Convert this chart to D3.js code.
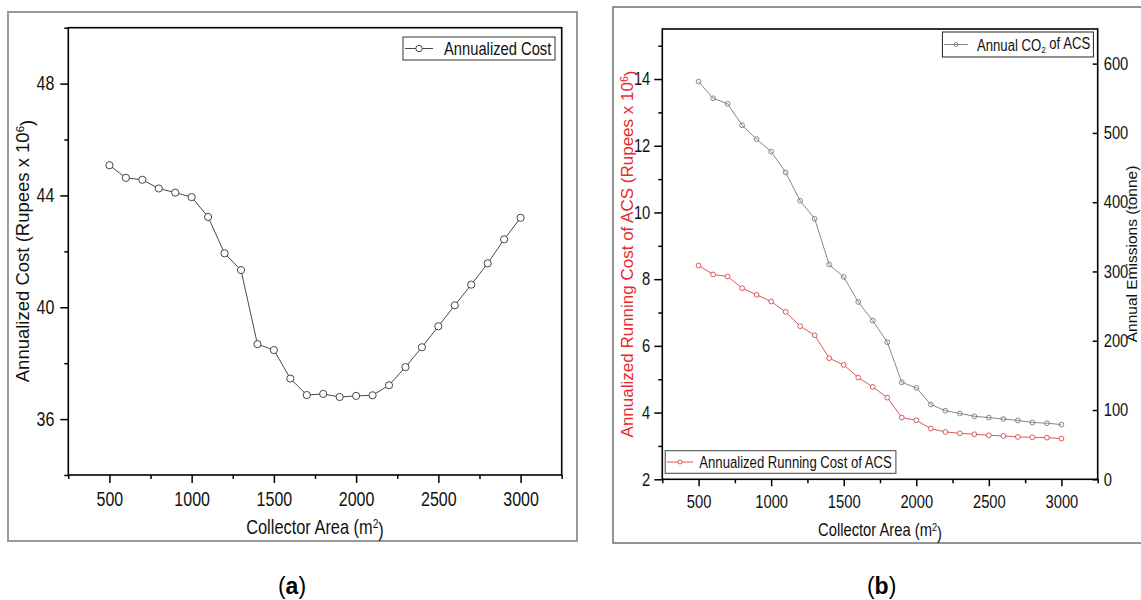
<!DOCTYPE html>
<html>
<head>
<meta charset="utf-8">
<script src="https://cdn.jsdelivr.net/npm/d3@7"></script>
<style>
  body { margin: 0; background: #fff; }
  svg { display: block; }
  text { font-family: "Liberation Sans", Arial, sans-serif; }
</style>
</head>
<body>
<svg id="chart" width="1141" height="600"></svg>
<script>
// collector area (m2), shared by every series
const collectorArea = [500, 600, 700, 800, 900, 1000, 1100, 1200, 1300, 1400, 1500, 1600, 1700,
    1800, 1900, 2000, 2100, 2200, 2300, 2400, 2500, 2600, 2700, 2800, 2900, 3000];

// (a) annualized cost, Rupees x 10^6
const annualizedCost = [45.08, 44.63, 44.56, 44.25, 44.10, 43.94, 43.23, 41.93, 41.33, 38.68, 38.47, 37.45, 36.86,
    36.90, 36.79, 36.83, 36.85, 37.21, 37.86, 38.57, 39.32, 40.07, 40.81, 41.57, 42.43, 43.20];

// (b) annualized running cost, Rupees x 10^6
const runningCost = [8.41, 8.14, 8.08, 7.73, 7.53, 7.33, 7.02, 6.59, 6.32, 5.63, 5.43, 5.05, 4.77,
    4.45, 3.85, 3.77, 3.52, 3.42, 3.38, 3.35, 3.32, 3.30, 3.27, 3.26, 3.25, 3.22];

// (b) annual CO2 emissions, tonne
const co2Emissions = [574, 550, 542, 511, 491, 473, 443, 402, 376, 310, 292, 256, 229,
    198, 140, 132, 108, 99, 95, 91, 89, 87, 85, 82, 81, 79];

const xTicks = [500, 1000, 1500, 2000, 2500, 3000];
const xMinor = [250, 750, 1250, 1750, 2250, 2750, 3250];
const yTicksA = [36, 40, 44, 48];
const yMinorA = [34, 38, 42, 46, 50];
const yTicksB = [2, 4, 6, 8, 10, 12, 14];
const yMinorB = [3, 5, 7, 9, 11, 13, 15];
const yTicksRight = [0, 100, 200, 300, 400, 500, 600];

const SQUEEZE = 0.82; // the source figure is horizontally compressed

const svg = d3.select('#chart');
svg.append('rect').attr('width', 1141).attr('height', 600).attr('fill', '#fff');

function squeeze (sel) {
    // squash horizontal text around its own anchor point
    sel.each(function () {
        const t = d3.select(this);
        const x = +t.attr('x') || 0;
        const y = +t.attr('y') || 0;
        t.attr('x', null).attr('y', null)
            .attr('transform', 'translate(' + x + ',' + y + ') scale(' + SQUEEZE + ',1)');
    });
}

function styleAxis (g, size) {
    g.select('.domain').remove();
    g.selectAll('line').attr('stroke', '#000').attr('stroke-width', 1.5);
    g.selectAll('text').attr('font-size', size).attr('fill', '#111').call(squeeze);
}

function richText (sel, parts) {
    // parts: [text, kind] where kind shifts the baseline for super/subscripts
    parts.forEach(([t, kind]) => {
        const ts = sel.append('tspan').text(t);
        if (kind === 'sup') ts.attr('dy', '-0.45em').attr('font-size', '62%');
        if (kind === 'sub') ts.attr('dy', '0.3em').attr('font-size', '62%');
        if (kind === 'back-sup') ts.attr('dy', '0.45em');
        if (kind === 'back-sub') ts.attr('dy', '-0.3em');
    });
}

// ---------------- panel (a) ----------------
svg.append('rect').attr('x', 8).attr('y', 12).attr('width', 569).attr('height', 529)
    .attr('fill', 'none').attr('stroke', '#9a9a9a').attr('stroke-width', 2);

const xA = d3.scaleLinear().domain([250, 3250]).range([68.3, 561.7]);
const yA = d3.scaleLinear().domain([34, 50]).range([475, 27.7]);

const gA = svg.append('g');

gA.append('g').attr('transform', 'translate(0,475)')
    .call(d3.axisBottom(xA).tickValues(xTicks).tickSize(8).tickPadding(9).tickFormat(d3.format('d')))
    .call(g => styleAxis(g, 19.5));
gA.append('g').attr('transform', 'translate(0,475)')
    .call(d3.axisBottom(xA).tickValues(xMinor).tickSize(4).tickFormat(''))
    .call(g => styleAxis(g, 0));
gA.append('g').attr('transform', 'translate(68.3,0)')
    .call(d3.axisLeft(yA).tickValues(yTicksA).tickSize(8).tickPadding(6))
    .call(g => styleAxis(g, 19.5));
gA.append('g').attr('transform', 'translate(68.3,0)')
    .call(d3.axisLeft(yA).tickValues(yMinorA).tickSize(4).tickFormat(''))
    .call(g => styleAxis(g, 0));

gA.append('rect').attr('x', xA.range()[0]).attr('y', yA.range()[1])
    .attr('width', xA.range()[1] - xA.range()[0]).attr('height', yA.range()[0] - yA.range()[1])
    .attr('fill', 'none').attr('stroke', '#000').attr('stroke-width', 1.6);

const costPts = collectorArea.map((x, i) => [x, annualizedCost[i]]);
gA.append('path').datum(costPts)
    .attr('d', d3.line().x(d => xA(d[0])).y(d => yA(d[1])))
    .attr('fill', 'none').attr('stroke', '#333').attr('stroke-width', 0.9);
gA.selectAll('.ptA').data(costPts).enter().append('circle')
    .attr('cx', d => xA(d[0])).attr('cy', d => yA(d[1])).attr('r', 3.6)
    .attr('fill', '#fff').attr('stroke', '#333').attr('stroke-width', 0.9);

// legend (a)
gA.append('rect').attr('x', 403).attr('y', 37).attr('width', 152).attr('height', 23)
    .attr('fill', '#fff').attr('stroke', '#333').attr('stroke-width', 1);
gA.append('line').attr('x1', 405).attr('x2', 433).attr('y1', 48.5).attr('y2', 48.5)
    .attr('stroke', '#333').attr('stroke-width', 0.9);
gA.append('circle').attr('cx', 419).attr('cy', 48.5).attr('r', 3.2)
    .attr('fill', '#fff').attr('stroke', '#333').attr('stroke-width', 0.9);
gA.append('text').attr('x', 444).attr('y', 55)
    .attr('font-size', 18).attr('fill', '#111').text('Annualized Cost')
    .call(squeeze);

// axis titles (a)
gA.append('text').attr('x', 315).attr('y', 534)
    .attr('text-anchor', 'middle').attr('font-size', 20).attr('fill', '#111')
    .call(t => richText(t, [['Collector Area (m', null], ['2', 'sup'], [')', 'back-sup']]))
    .call(squeeze);
gA.append('text')
    .attr('transform', 'translate(23,251) rotate(-90)').attr('dy', '0.35em')
    .attr('text-anchor', 'middle').attr('font-size', 18.5).attr('fill', '#111')
    .call(t => richText(t, [['Annualized Cost (Rupees x 10', null], ['6', 'sup'], [')', 'back-sup']]));

svg.append('text').attr('x', 292).attr('y', 594).attr('text-anchor', 'middle')
    .attr('font-family', '"Liberation Serif", "DejaVu Serif", serif').attr('font-size', 23).attr('fill', '#000')
    .call(t => { t.append('tspan').text('('); t.append('tspan').attr('font-weight', 'bold').text('a'); t.append('tspan').text(')'); });

// ---------------- panel (b) ----------------
svg.append('rect').attr('x', 613).attr('y', 7).attr('width', 560).attr('height', 536)
    .attr('fill', 'none').attr('stroke', '#707070').attr('stroke-width', 1.5);

const xB = d3.scaleLinear().domain([250, 3250]).range([662.3, 1097.7]);
const yB = d3.scaleLinear().domain([2, 15.5]).range([479.3, 29]);
const yR = d3.scaleLinear().domain([0, 650]).range([479.3, 29]);

const gB = svg.append('g');

gB.append('g').attr('transform', 'translate(0,479.3)')
    .call(d3.axisBottom(xB).tickValues(xTicks).tickSize(7).tickPadding(9).tickFormat(d3.format('d')))
    .call(g => styleAxis(g, 18));
gB.append('g').attr('transform', 'translate(0,479.3)')
    .call(d3.axisBottom(xB).tickValues(xMinor).tickSize(4).tickFormat(''))
    .call(g => styleAxis(g, 0));
gB.append('g').attr('transform', 'translate(662.3,0)')
    .call(d3.axisLeft(yB).tickValues(yTicksB).tickSize(8).tickPadding(4))
    .call(g => styleAxis(g, 18));
gB.append('g').attr('transform', 'translate(662.3,0)')
    .call(d3.axisLeft(yB).tickValues(yMinorB).tickSize(4).tickFormat(''))
    .call(g => styleAxis(g, 0));
gB.append('g').attr('transform', 'translate(1097.7,0)')
    .call(d3.axisRight(yR).tickValues(yTicksRight).tickSize(-5).tickPadding(6))
    .call(g => styleAxis(g, 18));

gB.append('rect').attr('x', xB.range()[0]).attr('y', yB.range()[1])
    .attr('width', xB.range()[1] - xB.range()[0]).attr('height', yB.range()[0] - yB.range()[1])
    .attr('fill', 'none').attr('stroke', '#000').attr('stroke-width', 1.6);

const redLine = '#d8464c';
const greyLine = '#7a7a7a';

const co2Pts = collectorArea.map((x, i) => [x, co2Emissions[i]]);
gB.append('path').datum(co2Pts)
    .attr('d', d3.line().x(d => xB(d[0])).y(d => yR(d[1])))
    .attr('fill', 'none').attr('stroke', greyLine).attr('stroke-width', 0.9);
gB.selectAll('.ptCo2').data(co2Pts).enter().append('circle')
    .attr('cx', d => xB(d[0])).attr('cy', d => yR(d[1])).attr('r', 2.4)
    .attr('fill', 'none').attr('stroke', greyLine).attr('stroke-width', 0.9);

const runPts = collectorArea.map((x, i) => [x, runningCost[i]]);
gB.append('path').datum(runPts)
    .attr('d', d3.line().x(d => xB(d[0])).y(d => yB(d[1])))
    .attr('fill', 'none').attr('stroke', redLine).attr('stroke-width', 0.9);
gB.selectAll('.ptRun').data(runPts).enter().append('circle')
    .attr('cx', d => xB(d[0])).attr('cy', d => yB(d[1])).attr('r', 2.4)
    .attr('fill', '#fff').attr('stroke', redLine).attr('stroke-width', 0.9);

// legend (b), top right
gB.append('rect').attr('x', 942.4).attr('y', 32).attr('width', 151).attr('height', 25)
    .attr('fill', '#fff').attr('stroke', '#222').attr('stroke-width', 1);
gB.append('line').attr('x1', 944).attr('x2', 968).attr('y1', 44.5).attr('y2', 44.5)
    .attr('stroke', greyLine).attr('stroke-width', 0.9);
gB.append('circle').attr('cx', 956).attr('cy', 44.5).attr('r', 2)
    .attr('fill', 'none').attr('stroke', greyLine).attr('stroke-width', 0.9);
gB.append('text').attr('x', 977).attr('y', 50.5)
    .attr('font-size', 16).attr('fill', '#111')
    .call(t => richText(t, [['Annual CO', null], ['2', 'sub'], [' of ACS', 'back-sub']]))
    .call(squeeze);

// legend (b), bottom left
gB.append('rect').attr('x', 665.2).attr('y', 450.7).attr('width', 230.7).attr('height', 22.6)
    .attr('fill', '#fff').attr('stroke', '#444').attr('stroke-width', 1);
gB.append('line').attr('x1', 667).attr('x2', 693).attr('y1', 462).attr('y2', 462)
    .attr('stroke', redLine).attr('stroke-width', 0.9);
gB.append('circle').attr('cx', 680).attr('cy', 462).attr('r', 2)
    .attr('fill', '#fff').attr('stroke', redLine).attr('stroke-width', 0.9);
gB.append('text').attr('x', 699.3).attr('y', 467.8)
    .attr('font-size', 16).attr('fill', '#111').text('Annualized Running Cost of ACS')
    .call(squeeze);

// axis titles (b)
gB.append('text').attr('x', 880).attr('y', 536)
    .attr('text-anchor', 'middle').attr('font-size', 18).attr('fill', '#111')
    .call(t => richText(t, [['Collector Area (m', null], ['2', 'sup'], [')', 'back-sup']]))
    .call(squeeze);
gB.append('text')
    .attr('transform', 'translate(627,254) rotate(-90)').attr('dy', '0.35em')
    .attr('text-anchor', 'middle').attr('font-size', 17).attr('fill', '#e8282b')
    .call(t => richText(t, [['Annualized Running Cost of ACS (Rupees x 10', null], ['6', 'sup'], [')', 'back-sup']]));
gB.append('text')
    .attr('transform', 'translate(1132.5,254) rotate(-90)').attr('dy', '0.3em')
    .attr('text-anchor', 'middle').attr('font-size', 15.5).attr('fill', '#111')
    .text('Annual Emissions (tonne)');

svg.append('text').attr('x', 881.6).attr('y', 594).attr('text-anchor', 'middle')
    .attr('font-family', '"Liberation Serif", "DejaVu Serif", serif').attr('font-size', 23).attr('fill', '#000')
    .call(t => { t.append('tspan').text('('); t.append('tspan').attr('font-weight', 'bold').text('b'); t.append('tspan').text(')'); });
</script>
</body>
</html>
